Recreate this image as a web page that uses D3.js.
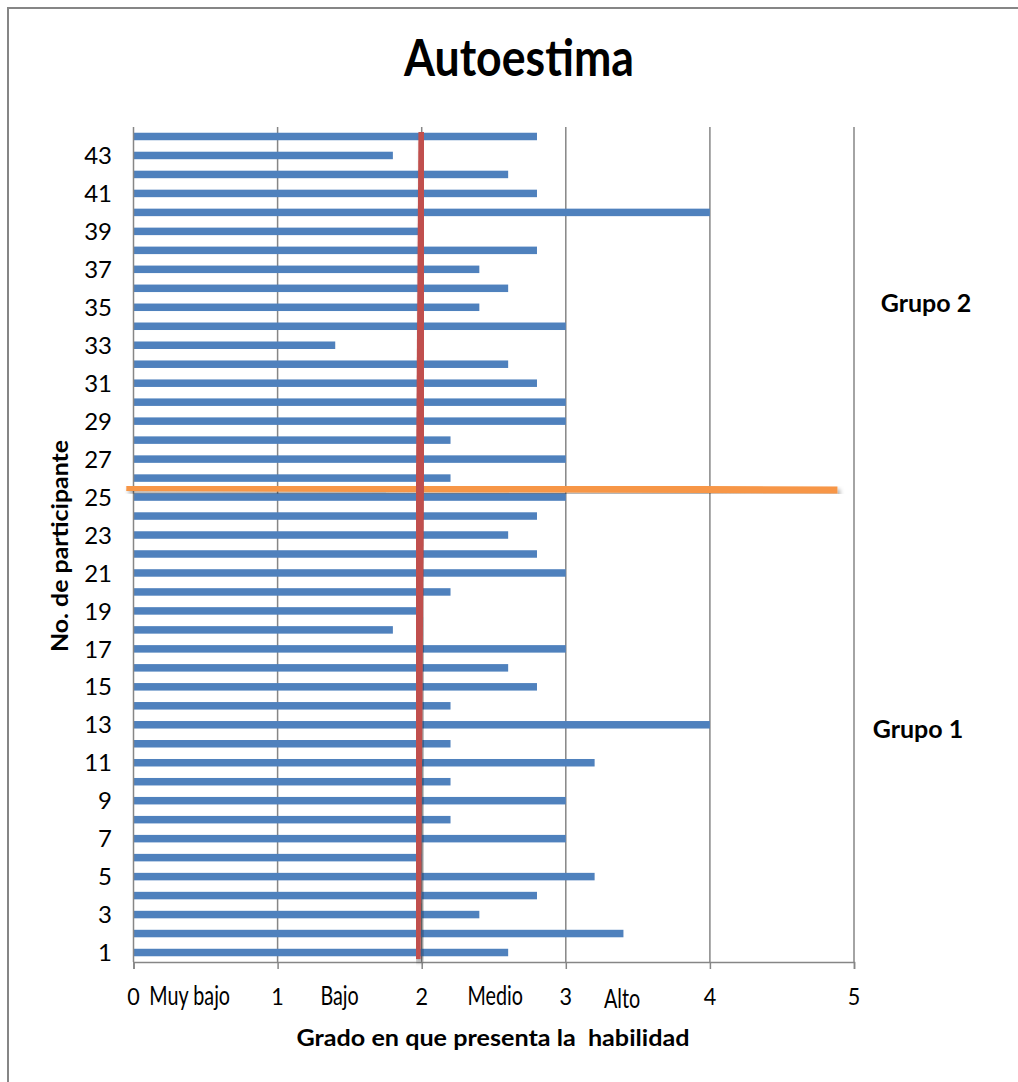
<!DOCTYPE html>
<html>
<head>
<meta charset="utf-8">
<script src="https://cdn.jsdelivr.net/npm/d3@7"></script>
<style>
  html, body { margin: 0; padding: 0; background: #fff; }
  svg { display: block; font-family: Lato, "Open Sans", sans-serif; }
</style>
</head>
<body>
<svg id="chart" width="1018" height="1082"></svg>
<script>
// ---- data ----
const participants = d3.range(1, 45);
const scores = [2.6, 3.4, 2.4, 2.8, 3.2, 2.0, 3.0, 2.2, 3.0, 2.2,
                3.2, 2.2, 4.0, 2.2, 2.8, 2.6, 3.0, 1.8, 2.0, 2.2,
                3.0, 2.8, 2.6, 2.8, 3.0, 2.2, 3.0, 2.2, 3.0, 3.0,
                2.8, 2.6, 1.4, 3.0, 2.4, 2.6, 2.4, 2.8, 2.0, 4.0,
                2.8, 2.6, 1.8, 2.8];
const yTickLabels = d3.range(1, 44, 2);
const xTicks = [0, 1, 2, 3, 4, 5];
const levelLabels = ["Muy bajo", "Bajo", "Medio", "Alto"];
const levelPositions = [0.39, 1.43, 2.51, 3.39];
const groupLabels = ["Grupo 2", "Grupo 1"];
const groupPositions = [35.2, 12.8];
// reference lines (value, participant position)
const meanLine = [{v: 1.965, p: 0.66}, {v: 2.005, p: 44.24}];
const groupSplit = [{v: -0.05, p: 25.5}, {v: 4.885, p: 25.37}];
const chartTitle = "Autoestima";
const xTitle = "Grado en que presenta la  habilidad";
const yTitle = "No. de participante";

// ---- layout ----
const svg = d3.select("#chart");
const plotLeft = 133.5, plotRight = 854, plotTop = 127, plotBottom = 962;
const x = d3.scaleLinear().domain([0, 5]).range([plotLeft, plotRight]);
const yPos = d3.scaleLinear().domain([0.5, 44.5]).range([plotBottom, plotTop]);
const barH = 7.5;

const defs = svg.append("defs");
const f = defs.append("filter").attr("id", "shadow")
  .attr("x", "-10%").attr("y", "-50%").attr("width", "130%").attr("height", "300%");
f.append("feDropShadow").attr("dx", 2.5).attr("dy", 3).attr("stdDeviation", 2)
  .attr("flood-color", "#000").attr("flood-opacity", 0.35);

// outer border
svg.append("rect").attr("x", 8).attr("y", 8).attr("width", 1030).attr("height", 1100)
  .attr("fill", "none").attr("stroke", "#868686").attr("stroke-width", 2);

// title
svg.append("text").attr("transform", "translate(519,76) scale(0.95,1.08)")
  .attr("text-anchor", "middle")
  .attr("font-size", 47).attr("font-weight", "bold").attr("fill", "#000").text(chartTitle);

// gridlines
svg.append("g").selectAll("line").data(xTicks.slice(1)).join("line")
  .attr("x1", d => x(d)).attr("x2", d => x(d))
  .attr("y1", plotTop).attr("y2", plotBottom)
  .attr("stroke", "#868686").attr("stroke-width", 1.5);

// bars
svg.append("g").selectAll("rect").data(participants).join("rect")
  .attr("x", x(0))
  .attr("y", d => yPos(d) - barH / 2)
  .attr("width", (d, i) => x(scores[i]) - x(0))
  .attr("height", barH)
  .attr("fill", "#4f81bd");

// y axis line
svg.append("line").attr("x1", x(0)).attr("x2", x(0)).attr("y1", plotTop).attr("y2", plotBottom)
  .attr("stroke", "#868686").attr("stroke-width", 1.5);

// x axis
const xAxis = d3.axisBottom(x).tickValues(xTicks).tickSize(7).tickFormat("");
const gx = svg.append("g").attr("transform", `translate(0,${plotBottom})`).call(xAxis);
gx.select(".domain").attr("stroke", "#868686").attr("stroke-width", 1.5);
gx.selectAll(".tick line").attr("stroke", "#868686").attr("stroke-width", 1.5);

svg.append("g").selectAll("text").data(xTicks).join("text")
  .attr("transform", d => `translate(${x(d)},1005) scale(0.9,1)`)
  .attr("text-anchor", "middle")
  .attr("font-size", 24).attr("fill", "#000").text(d => d);

svg.append("g").selectAll("text").data(levelLabels).join("text")
  .attr("transform", (d, i) => `translate(${x(levelPositions[i])},${i === 3 ? 1008 : 1005}) scale(0.76,1)`)
  .attr("text-anchor", "middle").attr("font-size", 26).attr("fill", "#000").text(d => d);

// y tick labels
svg.append("g").selectAll("text").data(yTickLabels).join("text")
  .attr("x", 112).attr("y", d => yPos(d)).attr("dy", "0.36em")
  .attr("text-anchor", "end").attr("font-size", 24).attr("fill", "#000").text(d => d);

// axis titles
svg.append("text").attr("x", 493).attr("y", 1046).attr("text-anchor", "middle")
  .attr("font-size", 22).attr("font-weight", "bold").attr("fill", "#000")
  .attr("textLength", 393).attr("lengthAdjust", "spacingAndGlyphs")
  .style("white-space", "pre").text(xTitle);
svg.append("text").attr("transform", "translate(68,546) rotate(-90)")
  .attr("text-anchor", "middle").attr("font-size", 22).attr("font-weight", "bold")
  .attr("textLength", 212).attr("lengthAdjust", "spacingAndGlyphs")
  .attr("fill", "#000").text(yTitle);

// group labels
svg.append("g").selectAll("text").data(groupLabels).join("text")
  .attr("x", (d, i) => i === 0 ? 926 : 918)
  .attr("y", (d, i) => yPos(groupPositions[i])).attr("dy", "0.36em")
  .attr("text-anchor", "middle").attr("font-size", 25).attr("font-weight", "bold")
  .attr("fill", "#000").text(d => d);

// reference lines
const line = d3.line().x(d => x(d.v)).y(d => yPos(d.p));
svg.append("path").datum(groupSplit).attr("d", line)
  .attr("stroke", "#f79646").attr("stroke-width", 7).attr("fill", "none")
  .attr("filter", "url(#shadow)");
svg.append("path").datum(meanLine).attr("d", line)
  .attr("stroke", "#c0504d").attr("stroke-width", 8).attr("fill", "none")
  .attr("filter", "url(#shadow)");
</script>
</body>
</html>
